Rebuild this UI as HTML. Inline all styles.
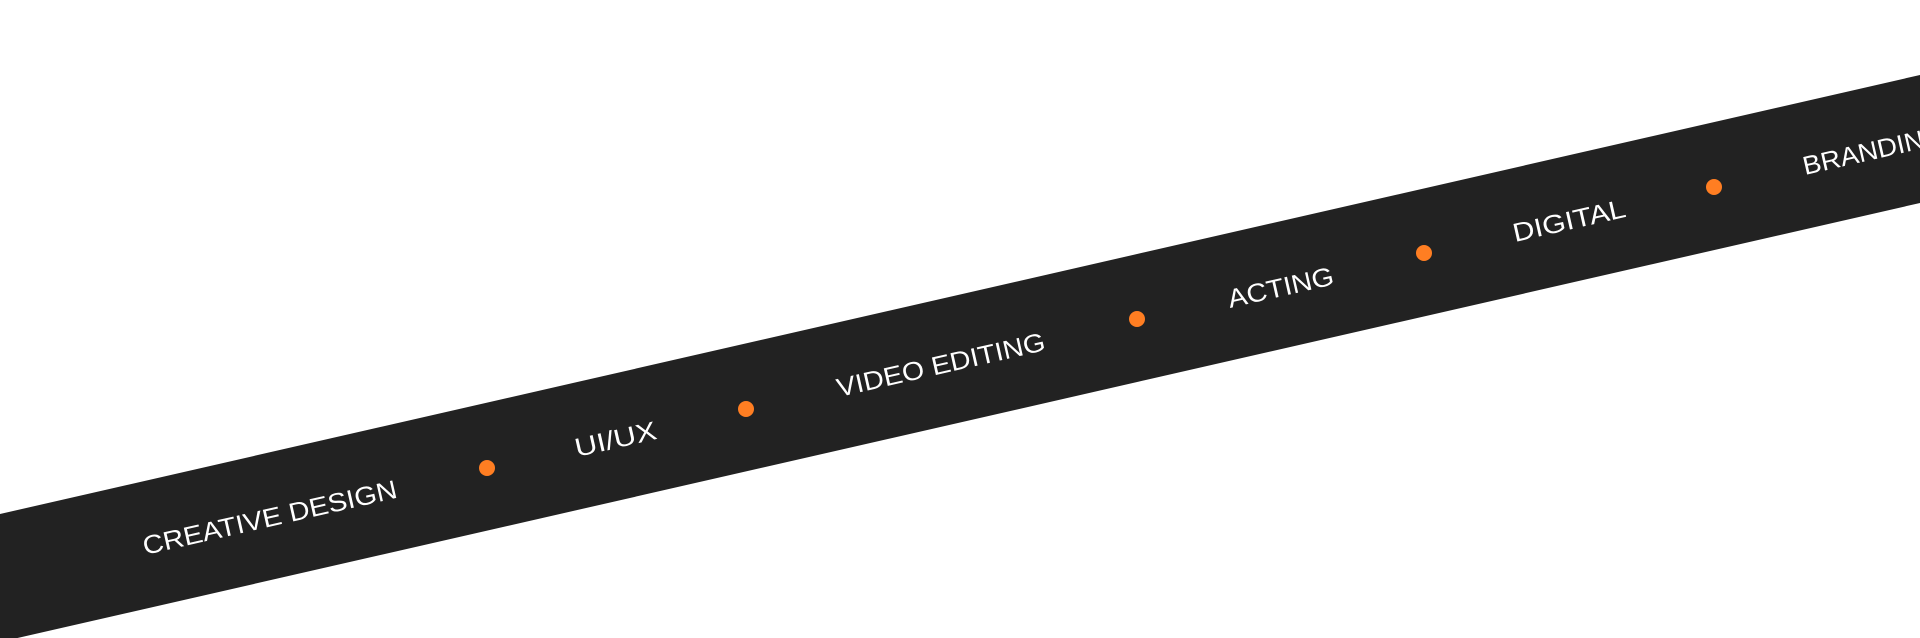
<!DOCTYPE html>
<html><head><meta charset="utf-8"><style>
html,body{margin:0;padding:0;background:#fff;}
svg{display:block;}
text{font-family:"Liberation Sans",sans-serif;font-size:26px;fill:#fff;}
</style></head><body>
<svg width="1920" height="638" viewBox="0 0 1920 638" xmlns="http://www.w3.org/2000/svg">
<rect width="1920" height="638" fill="#fff"/>
<polygon points="0,514 1920,75 1920,203 0,642" fill="#222222"/>
<g fill="#FF7E22">
<circle cx="487" cy="468" r="8"/>
<circle cx="746" cy="409" r="8"/>
<circle cx="1137" cy="319" r="8"/>
<circle cx="1424" cy="253" r="8"/>
<circle cx="1714" cy="187" r="8"/>
</g>
<text transform="translate(145,555) rotate(-12.8)" textLength="260" lengthAdjust="spacingAndGlyphs">CREATIVE DESIGN</text>
<text transform="translate(577,457) rotate(-12.8)" textLength="83" lengthAdjust="spacingAndGlyphs">UI/UX</text>
<text transform="translate(839,397) rotate(-12.8)" textLength="213" lengthAdjust="spacingAndGlyphs">VIDEO EDITING</text>
<text transform="translate(1230,308) rotate(-12.8)" textLength="108" lengthAdjust="spacingAndGlyphs">ACTING</text>
<text transform="translate(1515,242) rotate(-12.8)" textLength="115" lengthAdjust="spacingAndGlyphs">DIGITAL</text>
<text transform="translate(1805,175) rotate(-12.8)" textLength="145" lengthAdjust="spacingAndGlyphs">BRANDING</text>
</svg>
</body></html>
